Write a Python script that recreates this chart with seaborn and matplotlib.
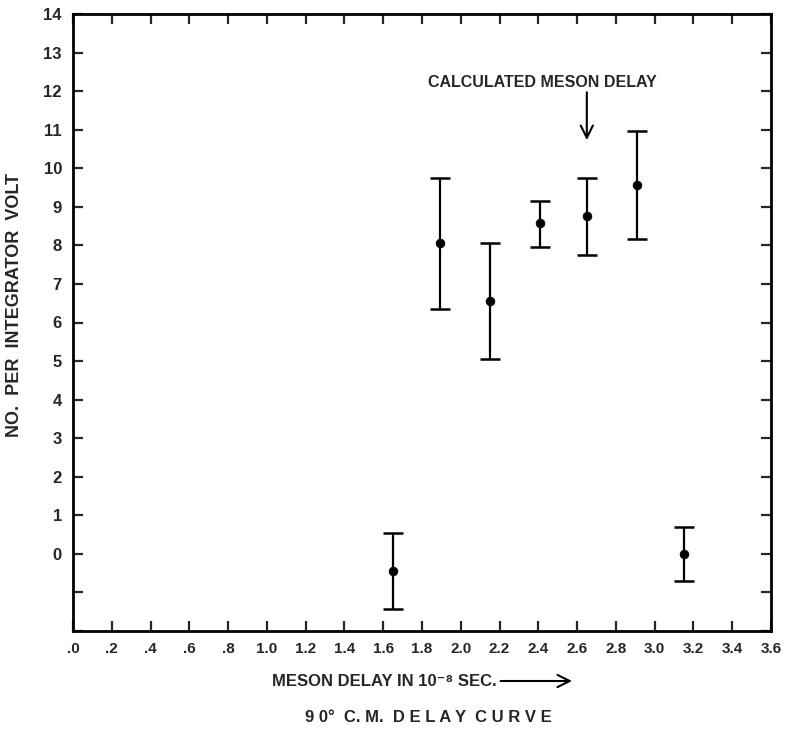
import matplotlib
matplotlib.use("Agg")
import matplotlib.pyplot as plt
import seaborn as sns
import pandas as pd

# data
delay = [1.65, 1.895, 2.15, 2.41, 2.65, 2.91, 3.15]
count = [-0.44, 8.06, 6.55, 8.57, 8.77, 9.57, 0.0]
err_low = [-1.43, 6.36, 5.06, 7.97, 7.75, 8.17, -0.71]
err_high = [0.54, 9.76, 8.07, 9.14, 9.76, 10.96, 0.70]

x_ticks = [round(0.2 * i, 1) for i in range(19)]
x_tick_labels = [".0", ".2", ".4", ".6", ".8", "1.0", "1.2", "1.4", "1.6", "1.8",
                 "2.0", "2.2", "2.4", "2.6", "2.8", "3.0", "3.2", "3.4", "3.6"]
y_ticks = list(range(-2, 15))
y_tick_labels = ["", ""] + [str(i) for i in range(0, 15)]

calc_delay = 2.65

df = pd.DataFrame({"delay": delay, "count": count})

sns.set_style("ticks")
plt.rcParams['font.family'] = ['Liberation Sans', 'DejaVu Sans']
plt.rcParams['font.weight'] = 'bold'

fig = plt.figure(figsize=(7.87, 7.39), dpi=100)
ax = fig.add_axes([73 / 787, 1 - 631 / 739, (771 - 73) / 787, (631 - 14) / 739])

yerr = [[c - lo for c, lo in zip(count, err_low)],
        [hi - c for c, hi in zip(count, err_high)]]
ax.errorbar(delay, count, yerr=yerr, fmt="none", ecolor="black",
            elinewidth=1.6, capsize=7, capthick=1.8)
sns.scatterplot(data=df, x="delay", y="count", ax=ax, color="black",
                s=40, edgecolor="black", zorder=3)

ax.set_xlim(0, 3.6)
ax.set_ylim(-2, 14)
ax.set_xticks(x_ticks)
ax.set_xticklabels(x_tick_labels, fontsize=11, fontweight="bold")
ax.set_yticks(y_ticks)
ax.set_yticklabels(y_tick_labels, fontsize=12, fontweight="bold")
ax.tick_params(direction="in", length=7, width=1.6, top=True, right=True,
               labeltop=False, labelright=False)
ax.tick_params(axis="x", pad=8)
ax.tick_params(axis="y", pad=8)
for sp in ax.spines.values():
    sp.set_linewidth(2)
    sp.set_color("black")

ax.set_xlabel("")
ax.set_ylabel("")
fig.text(15 / 787, 1 - 305 / 739, "NO.  PER  INTEGRATOR  VOLT",
         rotation=90, ha="center", va="center", fontsize=13, fontweight="bold")

# annotation for the calculated delay
ax.annotate("", xy=(calc_delay, 10.73), xytext=(calc_delay, 11.97),
            arrowprops=dict(arrowstyle="->", color="black", lw=1.5,
                            mutation_scale=22, shrinkA=0, shrinkB=0))
ax.text(2.42, 12.23, "CALCULATED MESON DELAY", ha="center", va="center",
        fontsize=11.5, fontweight="bold")

# x label with long arrow after it
xl = fig.text(272 / 787, 1 - 681 / 739, "MESON DELAY IN 10⁻⁸ SEC.",
              ha="left", va="center", fontsize=12, fontweight="bold")
fig.canvas.draw()
bb = xl.get_window_extent()
x0 = (bb.x1 + 4) / fig.bbox.width
fig.patches.append(matplotlib.patches.FancyArrowPatch(
    (x0, 1 - 681 / 739), (572 / 787, 1 - 681 / 739),
    transform=fig.transFigure, arrowstyle="->", color="black", lw=1.5,
    mutation_scale=22, shrinkA=0, shrinkB=0))

fig.text(428 / 787, 1 - 718 / 739, "9 0°  C. M.  D E L A Y  C U R V E",
         ha="center", va="center", fontsize=12, fontweight="bold")

fig.savefig("out.png", dpi=100)
